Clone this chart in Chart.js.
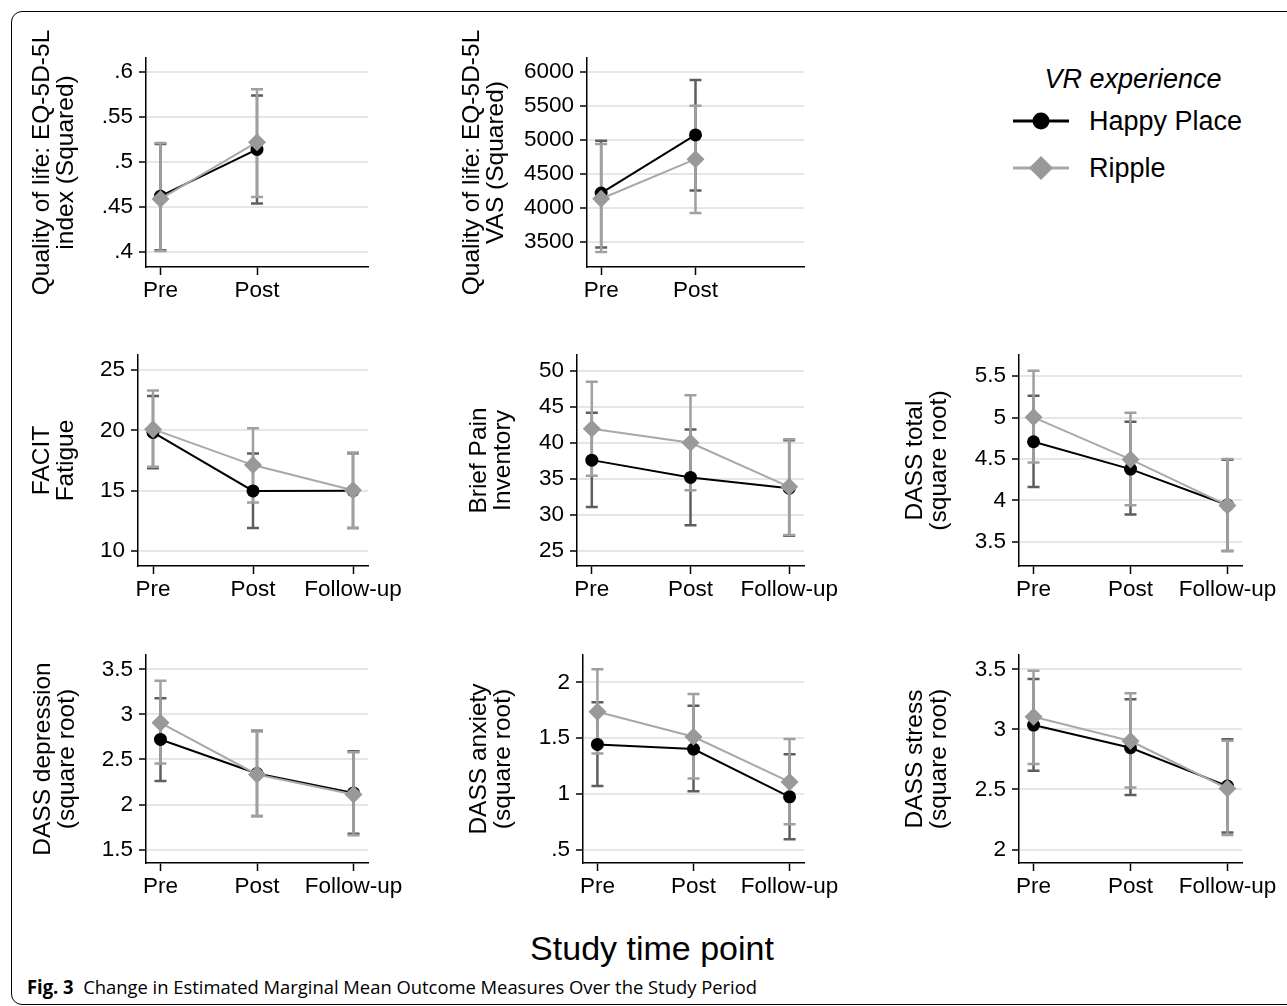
<!DOCTYPE html>
<html>
<head>
<meta charset="utf-8">
<script src="https://cdn.jsdelivr.net/npm/chart.js@4.4.1/dist/chart.umd.min.js"></script>
<style>
  html, body { margin:0; padding:0; background:#fff; }
  body { width:1287px; height:1006px; position:relative; overflow:hidden; font-family:"Liberation Sans", Arial, sans-serif; }
  #frame { position:absolute; left:11px; top:11px; width:1300px; height:994px; border:1.5px solid #000; border-radius:11px; box-sizing:border-box; }
  canvas { position:absolute; }
  .abs { position:absolute; white-space:nowrap; color:#000; }
  #legTitle { font-style:italic; font-size:27px; line-height:32px; }
  .legTxt { font-size:27px; line-height:32px; }
  .legSym { width:60px; height:26px; }
  .legSym svg { display:block; }
  #xtitle { font-size:34px; line-height:40px; }
  #caption { font-family:"Open Sans", "Noto Sans", sans-serif; font-size:19px; line-height:24px; transform-origin:0 50%; }
</style>
</head>
<body>
<div id="frame"></div>

<div class="abs" id="legTitle">VR experience</div>
<div class="abs legSym" id="legSym1"><svg width="60" height="26" viewBox="0 0 60 26">
  <line x1="2" y1="13" x2="58" y2="13" stroke="#000" stroke-width="3"/>
  <circle cx="30" cy="13" r="8.5" fill="#000"/>
</svg></div>
<div class="abs legTxt" id="legTxt1">Happy Place</div>
<div class="abs legSym" id="legSym2"><svg width="60" height="26" viewBox="0 0 60 26">
  <line x1="2" y1="13" x2="58" y2="13" stroke="#a8a8a8" stroke-width="3"/>
  <polygon points="30,1 42,13 30,25 18,13" fill="#999"/>
</svg></div>
<div class="abs legTxt" id="legTxt2">Ripple</div>

<div class="abs" id="xtitle">Study time point</div>
<div class="abs" id="caption"><b>Fig. 3</b>&nbsp; Change in Estimated Marginal Mean Outcome Measures Over the Study Period</div>

<script>
// ---------------- DATA ----------------
const timeLabels3 = ['Pre', 'Post', 'Follow-up'];
const timeLabels2 = ['Pre', 'Post'];
const seriesNames = ['Happy Place', 'Ripple'];

// Quality of life: EQ-5D-5L index (Squared)
const eqIndexTicks = [0.4, 0.45, 0.5, 0.55, 0.6];
const eqIndexTickLabels = ['.4', '.45', '.5', '.55', '.6'];
const eqIndexHappy = [0.462, 0.514];
const eqIndexHappyLo = [0.402, 0.454];
const eqIndexHappyHi = [0.520, 0.574];
const eqIndexRipple = [0.459, 0.522];
const eqIndexRippleLo = [0.401, 0.461];
const eqIndexRippleHi = [0.521, 0.581];

// Quality of life: EQ-5D-5L VAS (Squared)
const eqVasTicks = [3500, 4000, 4500, 5000, 5500, 6000];
const eqVasTickLabels = ['3500', '4000', '4500', '5000', '5500', '6000'];
const eqVasHappy = [4220, 5077];
const eqVasHappyLo = [3420, 4259];
const eqVasHappyHi = [4990, 5886];
const eqVasRipple = [4137, 4720];
const eqVasRippleLo = [3353, 3926];
const eqVasRippleHi = [4945, 5508];

// FACIT Fatigue
const facitTicks = [10, 15, 20, 25];
const facitTickLabels = ['10', '15', '20', '25'];
const facitHappy = [19.83, 14.98, 15.0];
const facitHappyLo = [16.85, 11.91, 11.9];
const facitHappyHi = [22.85, 18.09, 18.1];
const facitRipple = [20.1, 17.12, 15.04];
const facitRippleLo = [16.98, 14.02, 11.9];
const facitRippleHi = [23.3, 20.17, 18.17];

// Brief Pain Inventory
const bpiTicks = [25, 30, 35, 40, 45, 50];
const bpiTickLabels = ['25', '30', '35', '40', '45', '50'];
const bpiHappy = [37.6, 35.2, 33.7];
const bpiHappyLo = [31.1, 28.57, 27.1];
const bpiHappyHi = [44.17, 41.86, 40.37];
const bpiRipple = [41.94, 40.0, 33.9];
const bpiRippleLo = [35.42, 33.43, 27.2];
const bpiRippleHi = [48.47, 46.6, 40.5];

// DASS total (square root)
const dassTotTicks = [3.5, 4, 4.5, 5, 5.5];
const dassTotTickLabels = ['3.5', '4', '4.5', '5', '5.5'];
const dassTotHappy = [4.708, 4.378, 3.945];
const dassTotHappyLo = [4.164, 3.831, 3.39];
const dassTotHappyHi = [5.263, 4.949, 4.49];
const dassTotRipple = [5.002, 4.495, 3.94];
const dassTotRippleLo = [4.459, 3.943, 3.39];
const dassTotRippleHi = [5.565, 5.058, 4.499];

// DASS depression (square root)
const dassDepTicks = [1.5, 2, 2.5, 3, 3.5];
const dassDepTickLabels = ['1.5', '2', '2.5', '3', '3.5'];
const dassDepHappy = [2.722, 2.344, 2.129];
const dassDepHappyLo = [2.262, 1.873, 1.675];
const dassDepHappyHi = [3.178, 2.818, 2.59];
const dassDepRipple = [2.907, 2.333, 2.111];
const dassDepRippleLo = [2.456, 1.87, 1.66];
const dassDepRippleHi = [3.373, 2.81, 2.58];

// DASS anxiety (square root)
const dassAnxTicks = [0.5, 1, 1.5, 2];
const dassAnxTickLabels = ['.5', '1', '1.5', '2'];
const dassAnxHappy = [1.443, 1.401, 0.973];
const dassAnxHappyLo = [1.071, 1.024, 0.593];
const dassAnxHappyHi = [1.821, 1.79, 1.354];
const dassAnxRipple = [1.736, 1.512, 1.107];
const dassAnxRippleLo = [1.362, 1.138, 0.727];
const dassAnxRippleHi = [2.117, 1.895, 1.491];

// DASS stress (square root)
const dassStrTicks = [2, 2.5, 3, 3.5];
const dassStrTickLabels = ['2', '2.5', '3', '3.5'];
const dassStrHappy = [3.036, 2.847, 2.528];
const dassStrHappyLo = [2.655, 2.453, 2.142];
const dassStrHappyHi = [3.419, 3.25, 2.917];
const dassStrRipple = [3.105, 2.903, 2.508];
const dassStrRippleLo = [2.711, 2.517, 2.12];
const dassStrRippleHi = [3.488, 3.30, 2.905];

// ---------------- LAYOUT / STYLE ----------------
const FONT = '"Liberation Sans", Arial, sans-serif';
const HAPPY_COLOR = '#000000';
const HAPPY_CI = '#5e5e5e';
const RIPPLE_LINE = '#a8a8a8';
const RIPPLE_MARK = '#999999';
const RIPPLE_CI = '#a0a0a0';

const panels = [
  { title: ['Quality of life: EQ-5D-5L', 'index (Squared)'], cats: timeLabels2,
    ticks: eqIndexTicks, tickLabels: eqIndexTickLabels, min: 0.3833, max: 0.6156,
    happy: eqIndexHappy, happyLo: eqIndexHappyLo, happyHi: eqIndexHappyHi,
    ripple: eqIndexRipple, rippleLo: eqIndexRippleLo, rippleHi: eqIndexRippleHi,
    left: 20, axisX: 146, right: 368, top: 58, bottom: 267, titleX: 42 },
  { title: ['Quality of life: EQ-5D-5L', 'VAS (Squared)'], cats: timeLabels2,
    ticks: eqVasTicks, tickLabels: eqVasTickLabels, min: 3132, max: 6210,
    happy: eqVasHappy, happyLo: eqVasHappyLo, happyHi: eqVasHappyHi,
    ripple: eqVasRipple, rippleLo: eqVasRippleLo, rippleHi: eqVasRippleHi,
    left: 450, axisX: 587, right: 804, top: 58, bottom: 267, titleX: 472 },
  { title: ['FACIT', 'Fatigue'], cats: timeLabels3,
    ticks: facitTicks, tickLabels: facitTickLabels, min: 8.755, max: 26.245,
    happy: facitHappy, happyLo: facitHappyLo, happyHi: facitHappyHi,
    ripple: facitRipple, rippleLo: facitRippleLo, rippleHi: facitRippleHi,
    left: 20, axisX: 138, right: 368, top: 355, bottom: 566, titleX: 42 },
  { title: ['Brief Pain', 'Inventory'], cats: timeLabels3,
    ticks: bpiTicks, tickLabels: bpiTickLabels, min: 22.917, max: 52.18,
    happy: bpiHappy, happyLo: bpiHappyLo, happyHi: bpiHappyHi,
    ripple: bpiRipple, rippleLo: bpiRippleLo, rippleHi: bpiRippleHi,
    left: 450, axisX: 577, right: 804, top: 355, bottom: 566, titleX: 479 },
  { title: ['DASS total', '(square root)'], cats: timeLabels3,
    ticks: dassTotTicks, tickLabels: dassTotTickLabels, min: 3.2103, max: 5.7535,
    happy: dassTotHappy, happyLo: dassTotHappyLo, happyHi: dassTotHappyHi,
    ripple: dassTotRipple, rippleLo: dassTotRippleLo, rippleHi: dassTotRippleHi,
    left: 885, axisX: 1019, right: 1242, top: 355, bottom: 566, titleX: 915 },
  { title: ['DASS depression', '(square root)'], cats: timeLabels3,
    ticks: dassDepTicks, tickLabels: dassDepTickLabels, min: 1.351, max: 3.659,
    happy: dassDepHappy, happyLo: dassDepHappyLo, happyHi: dassDepHappyHi,
    ripple: dassDepRipple, rippleLo: dassDepRippleLo, rippleHi: dassDepRippleHi,
    left: 20, axisX: 146, right: 368, top: 655, bottom: 863, titleX: 43 },
  { title: ['DASS anxiety', '(square root)'], cats: timeLabels3,
    ticks: dassAnxTicks, tickLabels: dassAnxTickLabels, min: 0.3796, max: 2.245,
    happy: dassAnxHappy, happyLo: dassAnxHappyLo, happyHi: dassAnxHappyHi,
    ripple: dassAnxRipple, rippleLo: dassAnxRippleLo, rippleHi: dassAnxRippleHi,
    left: 450, axisX: 583, right: 804, top: 655, bottom: 863, titleX: 479 },
  { title: ['DASS stress', '(square root)'], cats: timeLabels3,
    ticks: dassStrTicks, tickLabels: dassStrTickLabels, min: 1.888, max: 3.619,
    happy: dassStrHappy, happyLo: dassStrHappyLo, happyHi: dassStrHappyHi,
    ripple: dassStrRipple, rippleLo: dassStrRippleLo, rippleHi: dassStrRippleHi,
    left: 885, axisX: 1019, right: 1242, top: 655, bottom: 863, titleX: 915 }
];

// Error bars drawn through the chart's own scales
const errorBarsPlugin = {
  id: 'errorBars',
  beforeDatasetsDraw(chart, args, opts) {
    const { ctx } = chart;
    const xs = chart.scales.x, ys = chart.scales.y;
    (opts.series || []).forEach(s => {
      ctx.save();
      ctx.strokeStyle = s.color;
      ctx.lineWidth = 2.5;
      ctx.lineCap = 'butt';
      s.lo.forEach((lo, i) => {
        const px = xs.getPixelForValue(i);
        const y1 = ys.getPixelForValue(lo);
        const y2 = ys.getPixelForValue(s.hi[i]);
        ctx.beginPath();
        ctx.moveTo(px, y1); ctx.lineTo(px, y2);
        ctx.moveTo(px - 6, y1); ctx.lineTo(px + 6, y1);
        ctx.moveTo(px - 6, y2); ctx.lineTo(px + 6, y2);
        ctx.stroke();
      });
      ctx.restore();
    });
  }
};

const PAD_TOP = 30, PAD_RIGHT = 50, X_H = 48;
const TITLE_LH = 1.0, TITLE_SIZE = 24.5, TICK_SIZE = 22.5;

function buildPanel(p) {
  const W = Math.round(p.right - p.left + PAD_RIGHT);
  const H = Math.round(p.bottom - p.top + PAD_TOP + X_H);
  const c = document.createElement('canvas');
  c.width = W; c.height = H;
  c.style.left = p.left + 'px';
  c.style.top = (p.top - PAD_TOP) + 'px';
  c.style.width = W + 'px';
  c.style.height = H + 'px';
  document.body.appendChild(c);
  const yW = p.axisX - p.left;
  const toPts = arr => arr.map((v, i) => ({ x: i, y: v }));
  const titlePad = p.titleX - p.left - TITLE_SIZE * TITLE_LH / 2;

  new Chart(c, {
    type: 'line',
    data: {
      datasets: [
        { label: seriesNames[0], data: toPts(p.happy), borderColor: HAPPY_COLOR, borderWidth: 2,
          pointStyle: 'circle', pointRadius: 6.5, pointBackgroundColor: HAPPY_COLOR,
          pointBorderColor: HAPPY_COLOR, pointBorderWidth: 0, tension: 0, order: 2, clip: false },
        { label: seriesNames[1], data: toPts(p.ripple), borderColor: RIPPLE_LINE, borderWidth: 2,
          pointStyle: 'rectRot', pointRadius: 9, pointBackgroundColor: RIPPLE_MARK,
          pointBorderColor: RIPPLE_MARK, pointBorderWidth: 0, tension: 0, order: 1, clip: false }
      ]
    },
    options: {
      responsive: false, animation: false, events: [],
      devicePixelRatio: 1,
      layout: { padding: { top: PAD_TOP, right: PAD_RIGHT, left: 0, bottom: 0 } },
      plugins: {
        legend: { display: false },
        tooltip: { enabled: false },
        errorBars: { series: [
          { lo: p.happyLo, hi: p.happyHi, color: HAPPY_CI },
          { lo: p.rippleLo, hi: p.rippleHi, color: RIPPLE_CI }
        ] }
      },
      scales: {
        x: {
          type: 'linear', min: -0.15, max: 2.15,
          afterBuildTicks: s => { s.ticks = p.cats.map((_, i) => ({ value: i })); },
          afterFit: s => { s.height = X_H; },
          ticks: { callback: v => p.cats[Math.round(v)], color: '#000', autoSkip: false,
                   maxRotation: 0, padding: 2, font: { family: FONT, size: TICK_SIZE } },
          grid: { drawOnChartArea: false, drawTicks: true, tickLength: 8, tickColor: '#000', tickWidth: 1.5 },
          border: { display: true, color: '#000', width: 1.5 }
        },
        y: {
          type: 'linear', min: p.min, max: p.max,
          afterBuildTicks: s => { s.ticks = p.ticks.map(v => ({ value: v })); },
          afterFit: s => { s.width = yW; },
          ticks: { callback: v => { const k = p.ticks.findIndex(t => Math.abs(t - v) < 1e-9); return k >= 0 ? p.tickLabels[k] : ''; },
                   color: '#000', autoSkip: false, padding: 6, font: { family: FONT, size: TICK_SIZE } },
          grid: { color: '#e6e6e6', lineWidth: 2, drawTicks: true, tickLength: 7, tickColor: '#000', tickWidth: 1.5 },
          border: { display: true, color: '#000', width: 1.5 },
          title: { display: true, text: p.title, color: '#000',
                   font: { family: FONT, size: TITLE_SIZE, lineHeight: TITLE_LH },
                   padding: { top: titlePad, bottom: 0 } }
        }
      }
    },
    plugins: [errorBarsPlugin]
  });
}

panels.forEach(buildPanel);

// ---------------- HTML text placement ----------------
function place(id, cx, cy, anchor) {
  const el = document.getElementById(id);
  const r = el.getBoundingClientRect();
  el.style.left = (anchor === 'left' ? cx : cx - r.width / 2) + 'px';
  el.style.top = (cy - r.height / 2) + 'px';
}
place('legTitle', 1133, 79);
place('legSym1', 1011, 121, 'left');
place('legTxt1', 1089, 121, 'left');
place('legSym2', 1011, 168, 'left');
place('legTxt2', 1089, 168, 'left');
place('xtitle', 652, 948);
(function () {
  const el = document.getElementById('caption');
  const w = el.getBoundingClientRect().width;
  el.style.transform = 'scaleX(' + (730 / w) + ')';
  place('caption', 27, 987, 'left');
})();
</script>
</body>
</html>
